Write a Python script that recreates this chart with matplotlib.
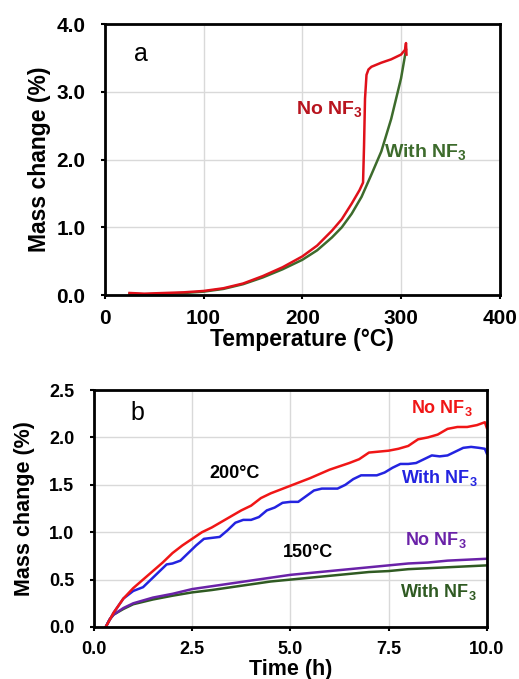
import matplotlib
matplotlib.use("Agg")
import matplotlib.pyplot as plt

plt.rcParams['font.family'] = ['Liberation Sans', 'DejaVu Sans']
plt.rcParams['mathtext.fontset'] = 'custom'
plt.rcParams['mathtext.rm'] = 'Liberation Sans'
plt.rcParams['mathtext.bf'] = 'Liberation Sans:bold'

# panel a: TGA ramp
temp_no = [25, 40, 60, 80, 100, 120, 140, 160, 180, 200, 215, 230, 240, 250, 258,
           261.5, 262.5, 263.5, 265, 267, 270, 275, 280, 290, 300, 304, 305, 305.5]
mass_no = [0.03, 0.02, 0.03, 0.04, 0.06, 0.10, 0.17, 0.28, 0.41, 0.57, 0.73, 0.95, 1.12, 1.35, 1.55,
           1.66, 2.2, 2.9, 3.25, 3.33, 3.37, 3.4, 3.43, 3.48, 3.55, 3.62, 3.72, 3.55]
temp_with = [25, 40, 60, 80, 100, 120, 140, 160, 180, 200, 215, 230, 240, 250, 260,
             270, 280, 290, 300, 305]
mass_with = [0.02, 0.01, 0.02, 0.03, 0.05, 0.09, 0.16, 0.26, 0.38, 0.52, 0.66, 0.85, 1.0, 1.2, 1.45,
             1.78, 2.12, 2.6, 3.2, 3.62]

# panel b: isothermal, 200 C
t200_no = [0.3, 0.5, 0.75, 1.0, 1.25, 1.5, 1.75, 2.0, 2.25, 2.5, 2.75, 3.0, 3.25, 3.5, 3.75,
           4.0, 4.25, 4.5, 4.75, 5.0, 5.5, 6.0, 6.5, 6.75, 7.0, 7.25, 7.5, 7.75, 8.0, 8.25,
           8.5, 8.75, 9.0, 9.25, 9.5, 9.75, 9.95, 10.0]
m200_no = [0.0, 0.15, 0.3, 0.41, 0.5, 0.59, 0.68, 0.78, 0.86, 0.93, 1.0, 1.05, 1.11, 1.17, 1.23,
           1.28, 1.36, 1.41, 1.45, 1.49, 1.57, 1.66, 1.73, 1.77, 1.84, 1.85, 1.86, 1.88, 1.91, 1.98,
           2.0, 2.03, 2.09, 2.11, 2.11, 2.13, 2.16, 2.1]
t200_with = [0.3, 0.5, 0.75, 1.0, 1.25, 1.5, 1.75, 1.85, 2.0, 2.2, 2.4, 2.6, 2.8, 3.0, 3.2,
             3.4, 3.6, 3.8, 4.0, 4.2, 4.4, 4.6, 4.8, 5.0, 5.2, 5.4, 5.6, 5.8, 6.0, 6.2,
             6.4, 6.6, 6.8, 7.0, 7.2, 7.4, 7.6, 7.8, 8.0, 8.2, 8.4, 8.6, 8.8, 9.0, 9.2,
             9.4, 9.6, 9.8, 9.95, 10.0]
m200_with = [0.0, 0.15, 0.3, 0.38, 0.42, 0.52, 0.62, 0.66, 0.67, 0.7, 0.78, 0.86, 0.93, 0.94, 0.95,
             1.02, 1.1, 1.13, 1.13, 1.16, 1.23, 1.26, 1.31, 1.32, 1.32, 1.38, 1.44, 1.46, 1.46, 1.46,
             1.5, 1.56, 1.6, 1.6, 1.6, 1.63, 1.68, 1.72, 1.72, 1.73, 1.77, 1.81, 1.8, 1.81, 1.85,
             1.89, 1.9, 1.89, 1.88, 1.83]

# panel b: 150 C
t150 = [0.3, 0.4, 0.5, 0.75, 1.0, 1.5, 2.0, 2.5, 3.0, 3.5, 4.0, 4.5, 5.0, 5.5, 6.0,
        6.5, 7.0, 7.5, 8.0, 8.5, 9.0, 9.5, 10.0]
m150_no = [0.0, 0.08, 0.13, 0.2, 0.25, 0.31, 0.35, 0.4, 0.43, 0.46, 0.49, 0.52, 0.55, 0.57, 0.59,
           0.61, 0.63, 0.65, 0.67, 0.68, 0.7, 0.71, 0.72]
m150_with = [0.0, 0.08, 0.13, 0.19, 0.24, 0.29, 0.33, 0.365, 0.39, 0.42, 0.45, 0.48, 0.5, 0.52, 0.54,
             0.56, 0.58, 0.59, 0.61, 0.62, 0.63, 0.64, 0.65]

fig = plt.figure(figsize=(5.19, 6.79), dpi=100)
ax1 = fig.add_axes([0.202, 0.5655, 0.761, 0.399])
ax2 = fig.add_axes([0.181, 0.0766, 0.757, 0.349])


def style(ax, tick_size, xpad, ypad):
    ax.grid(True, color='#d9d9d9', lw=1.0)
    ax.set_axisbelow(True)
    for s in ax.spines.values():
        s.set_linewidth(2.0)
    ax.tick_params(direction='out', length=3, width=1.5, labelsize=tick_size)
    ax.tick_params(axis='x', pad=xpad)
    ax.tick_params(axis='y', pad=ypad)
    for lab in ax.get_xticklabels() + ax.get_yticklabels():
        lab.set_fontweight('bold')


ax1.plot(temp_with, mass_with, color='#3d6b2c', lw=1.8)
ax1.plot(temp_no, mass_no, color='#e0101a', lw=1.8)
ax1.set_xlim(0, 400)
ax1.set_ylim(0, 4.0)
ax1.set_xticks([0, 100, 200, 300, 400])
ax1.set_yticks([0, 1, 2, 3, 4])
ax1.set_yticklabels(['0.0', '1.0', '2.0', '3.0', '4.0'])
style(ax1, 15, 7, 11)
ax1.set_xlabel('Temperature (°C)', fontsize=16.5, fontweight='bold', labelpad=0)
ax1.set_ylabel('Mass change (%)', fontsize=16.5, fontweight='bold', labelpad=4)
ax1.text(30, 3.56, 'a', fontsize=18, va='center')
ax1.text(261, 2.73, 'No NF$_\\mathbf{3}$', color='#b8141e', fontsize=14, fontweight='bold',
         ha='right', va='center')
ax1.text(283, 2.1, 'With NF$_\\mathbf{3}$', color='#3d6b2c', fontsize=14, fontweight='bold',
         ha='left', va='center')

ax2.plot(t150, m150_with, color='#2f5a22', lw=1.8)
ax2.plot(t150, m150_no, color='#6a22a8', lw=1.8)
ax2.plot(t200_with, m200_with, color='#2323e0', lw=1.8)
ax2.plot(t200_no, m200_no, color='#f01616', lw=1.8)
ax2.set_xlim(0, 10)
ax2.set_ylim(0, 2.5)
ax2.set_xticks([0, 2.5, 5, 7.5, 10])
ax2.set_xticklabels(['0.0', '2.5', '5.0', '7.5', '10.0'])
ax2.set_yticks([0, 0.5, 1.0, 1.5, 2.0, 2.5])
ax2.set_yticklabels(['0.0', '0.5', '1.0', '1.5', '2.0', '2.5'])
style(ax2, 13, 7, 11)
ax2.set_xlabel('Time (h)', fontsize=15.5, fontweight='bold', labelpad=1)
ax2.set_ylabel('Mass change (%)', fontsize=15.5, fontweight='bold', labelpad=10)
ax2.text(0.92, 2.26, 'b', fontsize=18, va='center')
ax2.text(9.65, 2.31, 'No NF$_\\mathbf{3}$', color='#f01616', fontsize=13, fontweight='bold',
         ha='right', va='center')
ax2.text(9.78, 1.57, 'With NF$_\\mathbf{3}$', color='#2323e0', fontsize=13, fontweight='bold',
         ha='right', va='center')
ax2.text(9.5, 0.92, 'No NF$_\\mathbf{3}$', color='#6a22a8', fontsize=13, fontweight='bold',
         ha='right', va='center')
ax2.text(9.75, 0.37, 'With NF$_\\mathbf{3}$', color='#2f5a22', fontsize=13, fontweight='bold',
         ha='right', va='center')
ax2.text(3.58, 1.62, '200°C', fontsize=13, fontweight='bold', ha='center', va='center')
ax2.text(5.45, 0.79, '150°C', fontsize=13, fontweight='bold', ha='center', va='center')

fig.savefig('out.png', dpi=100)
